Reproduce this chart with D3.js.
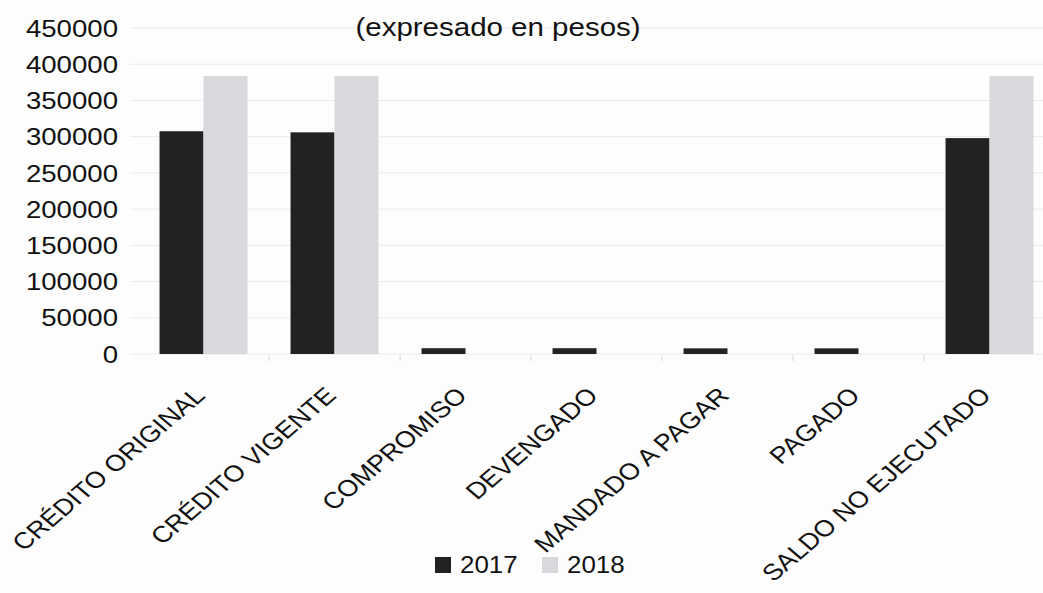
<!DOCTYPE html>
<html>
<head>
  <meta charset="utf-8">
  <script src="https://cdn.jsdelivr.net/npm/d3@7"></script>
  <style>
    body { margin: 0; background: #fdfdfd; }
    svg { display: block; font-family: 'Liberation Sans', Arial, sans-serif; }
  </style>
</head>
<body>
<svg id="chart" width="1043" height="593"></svg>
<script>
  // data
  var categories = ['CRÉDITO ORIGINAL', 'CRÉDITO VIGENTE', 'COMPROMISO', 'DEVENGADO', 'MANDADO A PAGAR', 'PAGADO', 'SALDO NO EJECUTADO'];
  var series = ['2017', '2018'];
  var values2017 = [307500, 306000, 8000, 8000, 7800, 7800, 298000];
  var values2018 = [383600, 383600, 0, 0, 0, 0, 383600];
  var yTicks = [0, 50000, 100000, 150000, 200000, 250000, 300000, 350000, 400000, 450000];
  var colors = { '2017': '#222222', '2018': '#d9d9dd' };

  var svg = d3.select('#chart');

  var x0 = d3.scaleBand().domain(categories).range([138, 1055]);
  var x1 = d3.scaleBand().domain(series).range([0, x0.bandwidth()]).paddingOuter(0.49);
  var y = d3.scaleLinear().domain([0, 450000]).range([354, 28]);

  // gridlines
  svg.append('g')
    .selectAll('line')
    .data(yTicks)
    .join('line')
    .attr('x1', 130)
    .attr('x2', 1043)
    .attr('y1', d => y(d))
    .attr('y2', d => y(d))
    .attr('stroke', '#ebebeb')
    .attr('stroke-width', 1);

  // y axis labels (scan is stretched horizontally, so stretch text too)
  svg.append('g')
    .selectAll('text')
    .data(yTicks)
    .join('text')
    .attr('transform', d => 'translate(118,' + y(d) + ') scale(1.15,1)')
    .attr('dy', '0.36em')
    .attr('text-anchor', 'end')
    .attr('font-size', 24)
    .attr('fill', '#111')
    .text(d => d);

  // tick marks between categories
  svg.append('g')
    .selectAll('line')
    .data(categories.slice(1))
    .join('line')
    .attr('x1', d => x0(d))
    .attr('x2', d => x0(d))
    .attr('y1', y(0) + 1)
    .attr('y2', y(0) + 7)
    .attr('stroke', '#d6d6d6');

  // bars
  var rows = categories.map((c, i) => ({ cat: c, vals: [
    { key: '2017', value: values2017[i] },
    { key: '2018', value: values2018[i] }
  ] }));

  svg.append('g')
    .selectAll('g')
    .data(rows)
    .join('g')
    .attr('transform', d => 'translate(' + x0(d.cat) + ',0)')
    .selectAll('rect')
    .data(d => d.vals.filter(v => v.value > 0))
    .join('rect')
    .attr('x', d => x1(d.key))
    .attr('y', d => y(d.value))
    .attr('width', x1.bandwidth())
    .attr('height', d => y(0) - y(d.value))
    .attr('fill', d => colors[d.key]);

  // category labels, rotated
  svg.append('g')
    .selectAll('text')
    .data(categories)
    .join('text')
    .attr('transform', d => 'translate(' + (x0(d) + x0.bandwidth() / 2 + 3) + ',397) scale(1.18,1) rotate(-45)')
    .attr('text-anchor', 'end')
    .attr('font-size', 23)
    .attr('fill', '#111')
    .text(d => d);

  // title (first line is cut off in the scan)
  svg.append('text')
    .attr('transform', 'translate(498,27) scale(1.18,1)')
    .attr('dy', '0.36em')
    .attr('text-anchor', 'middle')
    .attr('font-size', 25)
    .attr('fill', '#111')
    .text('(expresado en pesos)');

  // legend
  var legend = svg.append('g');
  var legendX = [435, 542];
  series.forEach((s, i) => {
    legend.append('rect')
      .attr('x', legendX[i])
      .attr('y', 557)
      .attr('width', 16)
      .attr('height', 16)
      .attr('fill', colors[s]);
    legend.append('text')
      .attr('transform', 'translate(' + (legendX[i] + 25) + ',573) scale(1.08,1)')
      .attr('font-size', 24)
      .attr('fill', '#111')
      .text(s);
  });
</script>
</body>
</html>
